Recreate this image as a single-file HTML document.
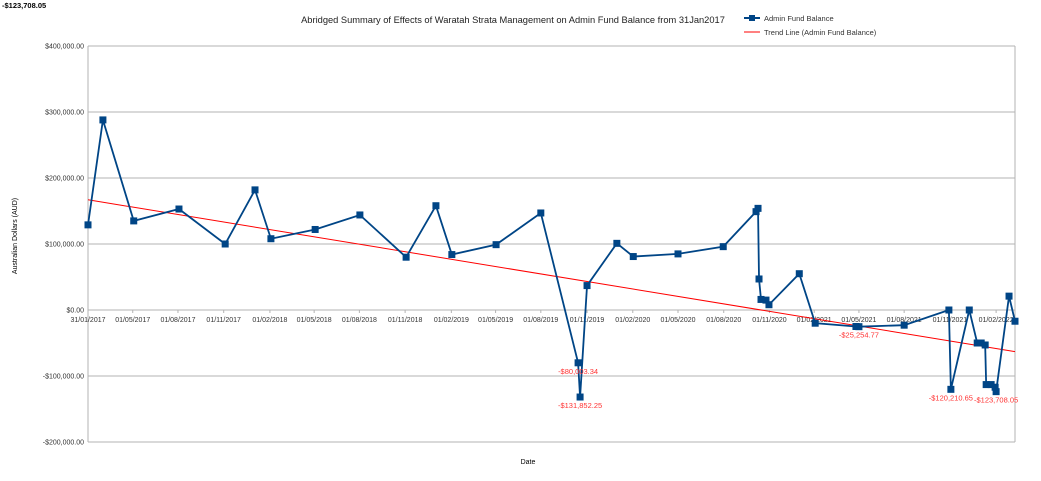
<!DOCTYPE html>
<html><head><meta charset="utf-8"><style>
body{margin:0;background:#fff;font-family:"Liberation Sans",sans-serif}
svg{display:block}
</style></head><body>
<svg id="chart" width="1041" height="481" font-family="Liberation Sans, sans-serif">
<text x="2" y="8" font-size="7.5" font-weight="bold">-$123,708.05</text>
<text x="513" y="23" font-size="9.3" text-anchor="middle" fill="#222">Abridged Summary of Effects of Waratah Strata Management on Admin Fund Balance from 31Jan2017</text>
<g>
<g><line x1="744" y1="18" x2="760" y2="18" stroke="#004586" stroke-width="2"/><rect x="749" y="15" width="6" height="6" fill="#004586"/><text x="764" y="21" font-size="7.5" fill="#333">Admin Fund Balance</text></g>
<g><line x1="744" y1="32" x2="760" y2="32" stroke="#ff0000" stroke-width="1"/><text x="764" y="35" font-size="7.5" fill="#333">Trend Line (Admin Fund Balance)</text></g>
</g>
<text transform="translate(17,236) rotate(-90)" font-size="7" text-anchor="middle">Australian Dollars (AUD)</text>
<text x="528" y="464" font-size="7" text-anchor="middle">Date</text>
<g id="grid"></g><g id="axes"></g><g id="trend"></g><g id="series"></g><g id="labels"></g>
</svg>
<script>
const days=[0,30,92,183,276,336,368,457,547,640,700,732,821,911,986,990,1004,1064,1097,1187,1278,1344,1348,1350,1354,1364,1370,1431,1463,1545,1551,1642,1732,1736,1773,1789,1797,1805,1807,1817,1825,1827,1853,1865];
const values=[129000,288000,135000,153000,100000,182000,108000,122000,144000,80000,158000,84000,99000,147000,-80003.34,-131852.25,37000,101000,81000,85000,96000,149000,154000,47000,16000,15000,8000,55000,-20000,-25000,-25254.77,-23000,0,-120210.65,0,-50000,-50000,-53000,-113000,-113000,-117000,-123708.05,21000,-17000];
const labeledIdx=[14,15,30,33,41];
const trendDays=[0,1865];
const trendValues=[167000,-63000];
const yTicks=[400000,300000,200000,100000,0,-100000,-200000];
const xTickDays=[0,90,181,273,366,455,546,638,731,820,911,1004,1096,1187,1279,1371,1461,1551,1642,1734,1827];
const xTickLabels=["31/01/2017","01/05/2017","01/08/2017","01/11/2017","01/02/2018","01/05/2018","01/08/2018","01/11/2018","01/02/2019","01/05/2019","01/08/2019","01/11/2019","01/02/2020","01/05/2020","01/08/2020","01/11/2020","01/02/2021","01/05/2021","01/08/2021","01/11/2021","01/02/2022"];
const NS="http://www.w3.org/2000/svg";
const X0=88,X1=1015,Y0=46,Y1=442,DMAX=1865,VMAX=400000,VMIN=-200000;
const sx=d=>X0+(d/DMAX)*(X1-X0);
const sy=v=>Y0+(VMAX-v)/(VMAX-VMIN)*(Y1-Y0);
function mk(t,a,p){const e=document.createElementNS(NS,t);for(const k in a)e.setAttribute(k,a[k]);p.appendChild(e);return e;}
const fmt=v=>(v<0?"-$":"$")+Math.abs(v).toLocaleString("en-US",{minimumFractionDigits:2,maximumFractionDigits:2});
const grid=document.getElementById('grid'),axes=document.getElementById('axes');
yTicks.forEach(v=>{
 const l=mk('line',{x1:X0,x2:X1,y1:sy(v),y2:sy(v),stroke:'#b3b3b3','stroke-width':1},grid);
 
 
 const t=mk('text',{x:X0-4,y:sy(v)+2.5,'font-size':7,'text-anchor':'end',fill:'#333'},axes);
 t.textContent=fmt(v);
 
 
});
const ya=mk('line',{x1:X0,x2:X0,y1:Y0,y2:Y1,stroke:'#b3b3b3'},axes);


const rb=mk('line',{x1:X1,x2:X1,y1:Y0,y2:Y1,stroke:'#b3b3b3'},axes);


xTickDays.forEach((d,i)=>{
 const tk=mk('line',{x1:sx(d),x2:sx(d),y1:sy(0),y2:sy(0)+3,stroke:'#b3b3b3'},axes);
 
 
 const t=mk('text',{x:sx(d),y:sy(0)+12,'font-size':7,'text-anchor':'middle',fill:'#333'},axes);
 t.textContent=xTickLabels[i];
 
 
});
const tl=mk('line',{x1:sx(trendDays[0]),y1:sy(trendValues[0]),x2:sx(trendDays[1]),y2:sy(trendValues[1]),stroke:'#ff0000','stroke-width':1},document.getElementById('trend'));


const ser=document.getElementById('series');
const pl=mk('polyline',{points:days.map((d,i)=>sx(d)+','+sy(values[i])).join(' '),fill:'none',stroke:'#004586','stroke-width':1.8},ser);


days.forEach((d,i)=>{
 const r=mk('rect',{x:sx(d)-3.5,y:sy(values[i])-3.5,width:7,height:7,fill:'#004586'},ser);
 
 
});
const lab=document.getElementById('labels');
labeledIdx.forEach(i=>{
 const t=mk('text',{x:sx(days[i]),y:sy(values[i])+11,'font-size':7.5,'text-anchor':'middle',fill:'#ff3333'},lab);
 t.textContent=fmt(values[i]);
 
 
});
</script>
</body></html>
